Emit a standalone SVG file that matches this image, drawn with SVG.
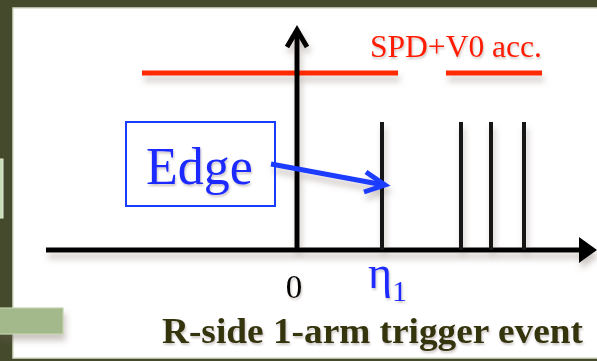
<svg xmlns="http://www.w3.org/2000/svg" width="597" height="361" viewBox="0 0 597 361">
<style>
.ax{stroke:#000;stroke-width:5;fill:none}
.tick{stroke:#141414;stroke-width:4;fill:none}
.red{stroke:#ff2a00;stroke-width:5;fill:none}
.blue{stroke:#1a3cff;fill:none}
.serif{font-family:"Liberation Serif","Times New Roman",serif}
</style>
<defs>
<filter id="sh" x="-20%" y="-50%" width="140%" height="300%">
<feDropShadow dx="2" dy="6" stdDeviation="3" flood-color="#6b5a50" flood-opacity="0.35"/>
</filter>
<filter id="tsh" x="-10%" y="-20%" width="120%" height="150%">
<feDropShadow dx="1" dy="2" stdDeviation="1.2" flood-color="#6b5a50" flood-opacity="0.35"/>
</filter>
</defs>
<rect x="0" y="0" width="597" height="361" fill="#454a2c"/>
<rect x="13" y="8" width="590" height="350" fill="#ffffff" stroke="#d6dfca" stroke-width="1.5"/>
<rect x="-2" y="159" width="5" height="59" fill="#c9ddb9" stroke="#e0ead6" stroke-width="1"/>
<g filter="url(#sh)">
<rect x="-2" y="308" width="65" height="26" fill="#a3b98b" stroke="#c3d3b0" stroke-width="1.2"/>
</g>
<g id="connectors" filter="url(#sh)">
<line class="red" x1="142" y1="73" x2="398" y2="73"/>
<line class="red" x1="446" y1="73" x2="542" y2="73"/>
<line class="ax" x1="46" y1="250" x2="582" y2="250"/>
<polygon points="579,237 597,250 579,263" fill="#000"/>
<line class="ax" x1="297" y1="250" x2="297" y2="30"/>
<polyline class="ax" points="287,47 297,30 307,47" stroke-linejoin="miter"/>
<line class="tick" x1="382" y1="122" x2="382" y2="250"/>
<line class="tick" x1="461" y1="122" x2="461" y2="250"/>
<line class="tick" x1="491" y1="122" x2="491" y2="250"/>
<line class="tick" x1="524" y1="122" x2="524" y2="250"/>
<line class="blue" stroke-width="5" x1="271" y1="164" x2="384" y2="185"/>
<polyline class="blue" stroke-width="5" points="366,172 385,185 364,192"/>
</g>
<g id="edge-node">
<rect x="126" y="122" width="149" height="84" class="blue" stroke-width="2"/>
<text x="146" y="184" class="serif" font-size="52" fill="#1a2bff" filter="url(#tsh)">Edge</text>
</g>
<g id="labels" filter="url(#tsh)">
<text x="370" y="57" class="serif" font-size="32" fill="#ff1a00" textLength="172" lengthAdjust="spacingAndGlyphs">SPD+V0 acc.</text>
<text x="294" y="298" class="serif" font-size="33" fill="#000" text-anchor="middle">0</text>
<text x="368" y="288" class="serif" font-size="46" fill="#1a2bff">η<tspan font-size="30" dy="13">1</tspan></text>
<text x="162" y="343" class="serif" font-size="36" font-weight="bold" fill="#35340f" textLength="421" lengthAdjust="spacingAndGlyphs">R-side 1-arm trigger event</text>
</g>
</svg>
